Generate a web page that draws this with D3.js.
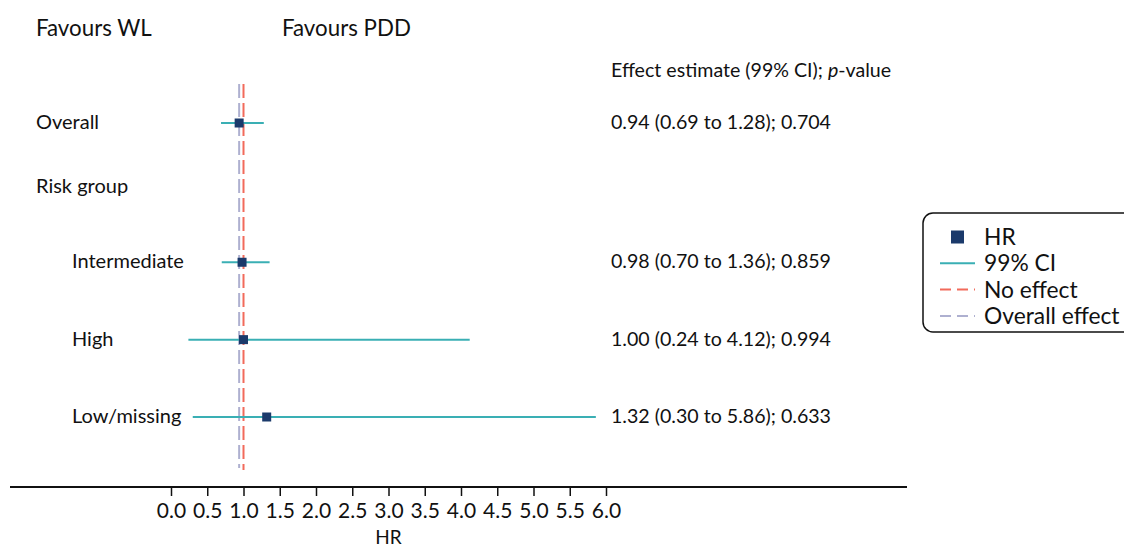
<!DOCTYPE html>
<html><head><meta charset="utf-8">
<script src="https://cdn.jsdelivr.net/npm/d3@7"></script>
<style>body{margin:0;background:#fff;} text{font-family:Lato, sans-serif; fill:#111;}</style>
</head><body>
<svg id="c" width="1124" height="549"></svg>
<script>
const labels = ["Overall", "Risk group", "Intermediate", "High", "Low/missing"];
const indent = [0, 0, 1, 1, 1];
const hr = [0.94, null, 0.98, 1.00, 1.32];
const lo = [0.69, null, 0.70, 0.24, 0.30];
const hi = [1.28, null, 1.36, 4.12, 5.86];
const effText = ["0.94 (0.69 to 1.28); 0.704", "", "0.98 (0.70 to 1.36); 0.859", "1.00 (0.24 to 4.12); 0.994", "1.32 (0.30 to 5.86); 0.633"];
const rowPos = [0, 0.83, 1.8, 2.8, 3.8];
const ticks = [0, 0.5, 1, 1.5, 2, 2.5, 3, 3.5, 4, 4.5, 5, 5.5, 6];
const noEffect = 1.0, overallEffect = 0.94;
const legendItems = ["HR", "99% CI", "No effect", "Overall effect"];

const svg = d3.select("#c");
const x = d3.scaleLinear().domain([0, 6]).range([171, 606]);
const y = d3.scaleLinear().domain([0, 3.8]).range([123, 417]);
const teal = "#3aafb4", navy = "#1b3a6b", red = "#f26a5b", lav = "#aeb0d0";

// header
svg.append("text").attr("x", 36).attr("y", 36).attr("font-size", 22.3).text("Favours WL");
svg.append("text").attr("x", 282).attr("y", 36).attr("font-size", 22.3).text("Favours PDD");
const hdr = svg.append("text").attr("x", 611).attr("y", 77).attr("font-size", 19.6);
hdr.append("tspan").text("Effect estimate (99% CI); ");
hdr.append("tspan").attr("font-style", "italic").text("p");
hdr.append("tspan").text("-value");

// reference lines
svg.append("line").attr("x1", x(overallEffect)).attr("x2", x(overallEffect)).attr("y1", 84).attr("y2", 468)
  .attr("stroke", lav).attr("stroke-width", 2).attr("stroke-dasharray", "14,5");
svg.append("line").attr("x1", x(noEffect)).attr("x2", x(noEffect)).attr("y1", 84).attr("y2", 470)
  .attr("stroke", red).attr("stroke-width", 2).attr("stroke-dasharray", "14,5");

// rows
labels.forEach((l, i) => {
  const yy = y(rowPos[i]);
  svg.append("text").attr("x", indent[i] ? 72 : 36).attr("y", yy + 6).attr("font-size", 20).text(l);
  if (hr[i] !== null) {
    svg.append("line").attr("x1", x(lo[i])).attr("x2", x(hi[i])).attr("y1", yy).attr("y2", yy)
      .attr("stroke", teal).attr("stroke-width", 2);
    svg.append("rect").attr("x", x(hr[i]) - 4.5).attr("y", yy - 4.5).attr("width", 9).attr("height", 9).attr("fill", navy);
    svg.append("text").attr("x", 611).attr("y", yy + 6).attr("font-size", 19.6).text(effText[i]);
  }
});

// axis
const ax = svg.append("g").attr("transform", "translate(0,487)").call(d3.axisBottom(x).tickValues(ticks).tickFormat(d3.format(".1f")).tickSize(9).tickPadding(7));
ax.select(".domain").remove();
ax.selectAll(".tick line").attr("stroke", "#111").attr("stroke-width", 1.5);
ax.selectAll(".tick text").attr("font-size", 21).attr("font-family", "Lato").attr("fill", "#111");
svg.append("line").attr("x1", 10).attr("x2", 907).attr("y1", 487).attr("y2", 487).attr("stroke", "#111").attr("stroke-width", 2);
svg.append("text").attr("x", x(3)).attr("y", 544).attr("text-anchor", "middle").attr("font-size", 19).text("HR");

// legend
svg.append("rect").attr("x", 923).attr("y", 213).attr("width", 220).attr("height", 119).attr("rx", 10)
  .attr("fill", "#fff").attr("stroke", "#111").attr("stroke-width", 1.5);
legendItems.forEach((t, i) => {
  const ly = 237 + i * 26.3;
  if (i === 0) svg.append("rect").attr("x", 951).attr("y", ly - 6.5).attr("width", 13).attr("height", 13).attr("fill", navy);
  else svg.append("line").attr("x1", 940).attr("x2", 975).attr("y1", ly).attr("y2", ly)
    .attr("stroke", [null, teal, red, lav][i]).attr("stroke-width", 2)
    .attr("stroke-dasharray", i === 1 ? null : "11,6");
  svg.append("text").attr("x", 984).attr("y", ly + 8).attr("font-size", 22.8).text(t);
});
</script>
</body></html>
